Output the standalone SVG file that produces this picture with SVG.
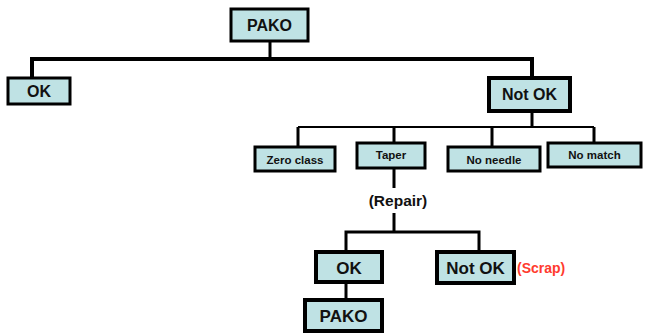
<svg xmlns="http://www.w3.org/2000/svg" width="646" height="333" viewBox="0 0 646 333">
<style>
.box{fill:#bfe2e4;stroke:#000;stroke-width:3}
.t{font-family:"Liberation Sans",Arial,sans-serif;font-weight:bold;fill:#111;text-anchor:middle}
.l{fill:none;stroke:#000;stroke-width:3}
</style>
<rect width="646" height="333" fill="#fff"/>
<g id="connectors">
<path class="l" d="M270 41V59"/>
<path class="l" style="stroke-width:4" d="M32 78V59H532V77"/>
<path class="l" d="M532 111V127"/>
<path class="l" style="stroke-width:2" d="M298 127H594"/>
<path class="l" d="M298 127V147M394 127V143M492 127V147M594 127V143"/>
<path class="l" d="M394 168V188M394 213V232"/>
<path class="l" d="M346 251V232H479V251"/>
<path class="l" d="M346 283V299"/>
</g>
<g id="pako-top"><rect class="box" x="231" y="9" width="77" height="32"/><text class="t" x="269.5" y="31" font-size="16">PAKO</text></g>
<g id="ok-top"><rect class="box" x="8" y="78" width="62" height="26"/><text class="t" x="39" y="97" font-size="16">OK</text></g>
<g id="notok-top"><rect class="box" x="489" y="78" width="81" height="33" style="stroke-width:4"/><text class="t" x="529.5" y="100" font-size="16">Not OK</text></g>
<g id="zero-class"><rect class="box" x="255" y="147" width="80" height="24"/><text class="t" x="295" y="164" font-size="11.5">Zero class</text></g>
<g id="taper"><rect class="box" x="357" y="143" width="68" height="25"/><text class="t" x="391" y="159" font-size="11.5">Taper</text></g>
<g id="no-needle"><rect class="box" x="448" y="147" width="92" height="24"/><text class="t" x="494" y="164" font-size="11.5">No needle</text></g>
<g id="no-match"><rect class="box" x="548" y="143" width="93" height="24"/><text class="t" x="594.5" y="159" font-size="11.5">No match</text></g>
<g id="repair"><text class="t" x="398" y="206" font-size="15.5">(Repair)</text></g>
<g id="ok-bottom"><rect class="box" x="316" y="252" width="66" height="30" style="stroke-width:4"/><text class="t" x="349" y="274" font-size="17">OK</text></g>
<g id="notok-bottom"><rect class="box" x="437" y="252" width="77" height="31" style="stroke-width:4"/><text class="t" x="475.5" y="274" font-size="17">Not OK</text><text x="517" y="273" font-family="Liberation Sans,Arial,sans-serif" font-weight="bold" font-size="14" fill="#ff3b2e">(Scrap)</text></g>
<g id="pako-bottom"><rect class="box" x="305" y="300" width="77" height="31" style="stroke-width:4"/><text class="t" x="343.5" y="322" font-size="17">PAKO</text></g>
</svg>
